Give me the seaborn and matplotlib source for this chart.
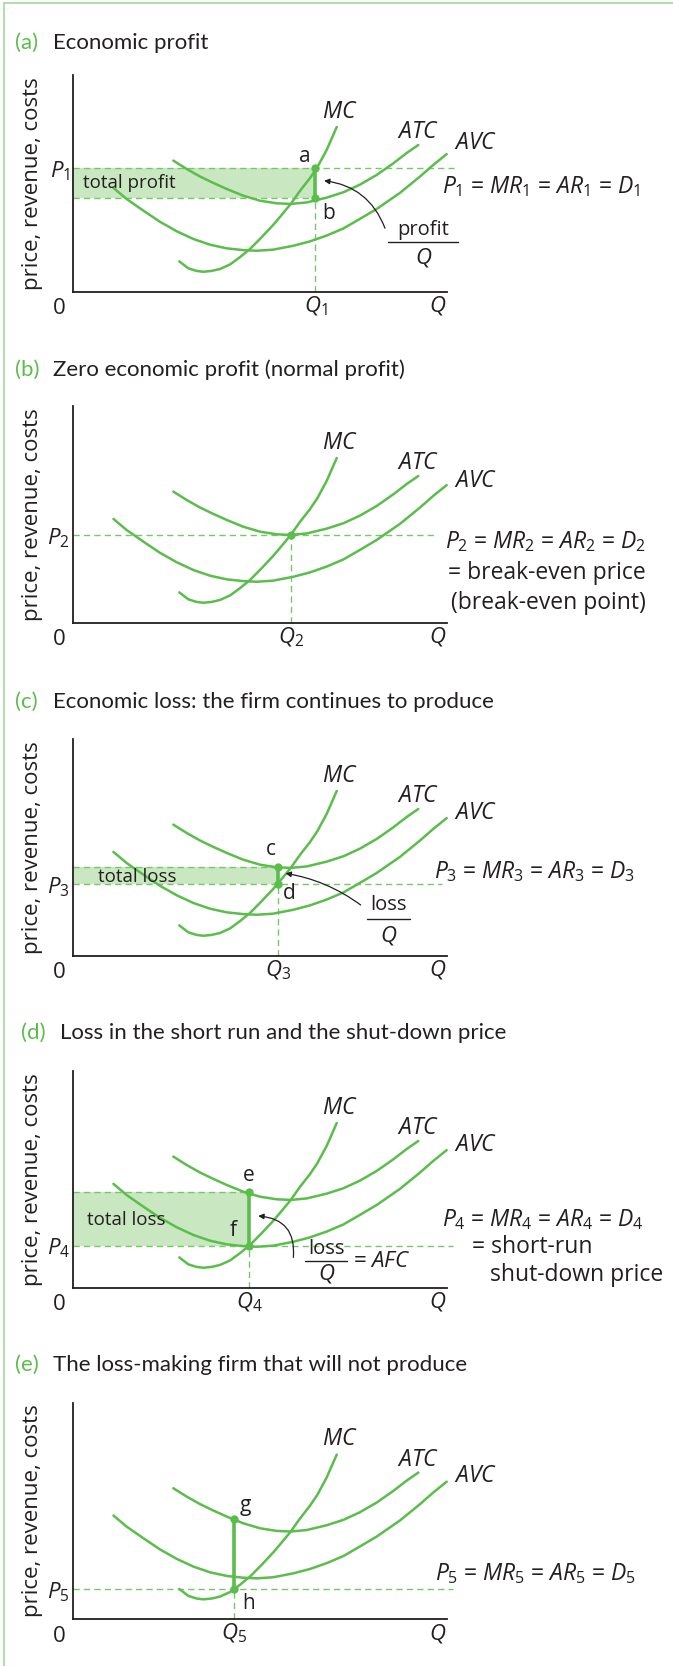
# five short-run cost diagrams: profit, break-even, loss, shut-down, no production
# the MC / ATC / AVC curves are the same in every panel, only the price line moves

import matplotlib
matplotlib.use("Agg")
import matplotlib.pyplot as plt
from matplotlib.lines import Line2D
import seaborn as sns

# cost curves (axes run 0..100 on both sides)
MC_Q = [28.5, 30.9, 33.1, 34.9, 37.2, 39.4, 42.1, 44.7, 47.4, 50.5, 53.6, 56.3, 58.3, 60.8, 63.4, 65.4, 67.9, 70.6]
MC_P = [14.0, 10.8, 9.6, 9.2, 9.6, 10.5, 12.6, 15.9, 19.7, 25.1, 30.8, 36.3, 40.5, 46.6, 52.3, 57.4, 65.4, 76.0]
ATC_Q = [26.9, 30.5, 34.0, 37.6, 41.2, 45.6, 50.1, 54.5, 58.3, 62.6, 67.9, 72.4, 76.8, 81.3, 85.7, 89.3, 92.4]
ATC_P = [60.5, 56.6, 53.2, 50.2, 47.4, 44.3, 42.0, 40.8, 40.5, 41.2, 43.4, 45.9, 49.4, 53.9, 59.2, 64.0, 67.7]
AVC_Q = [10.9, 14.4, 18.9, 23.3, 27.8, 32.3, 36.7, 41.2, 45.6, 49.2, 53.6, 59.0, 63.4, 67.9, 72.4, 76.8,
         81.3, 87.5, 92.9, 96.4, 100.0]
AVC_P = [47.9, 42.8, 37.4, 32.3, 27.9, 24.3, 21.7, 20.0, 19.2, 18.9, 19.4, 21.2, 23.2, 25.9, 29.2, 33.6,
         38.2, 45.6, 53.2, 58.5, 63.5]

PANEL_TAGS = ["(a)", "(b)", "(c)", "(d)", "(e)"]
PANEL_TITLES = [
    "Economic profit",
    "Zero economic profit (normal profit)",
    "Economic loss: the firm continues to produce",
    "Loss in the short run and the shut-down price",
    "The loss-making firm that will not produce",
]
PRICE = [57.0, 40.5, 32.9, 19.4, 14.0]      # P1..P5
OUTPUT = [64.9, 58.3, 54.9, 47.2, 43.1]     # Q1..Q5
ATC_AT_Q = [43.4, 40.5, 41.1, 44.3, 46.2]   # average total cost at chosen output
PRICE_PT = ["a", "", "d", "f", "h"]
ATC_PT = ["b", "", "c", "e", "g"]
SHADE_TEXT = ["total profit", "", "total loss", "total loss", ""]

GREEN = "#5bbd4c"
DASH = "#74c866"
FILL = "#c9e7c1"
INK = "#231f20"

sns.set_theme(style="white")
plt.rcParams["font.family"] = ["Open Sans", "DejaVu Sans"]
plt.rcParams["mathtext.fontset"] = "custom"
plt.rcParams["mathtext.rm"] = "Open Sans"
plt.rcParams["mathtext.it"] = "Open Sans:italic"
plt.rcParams["mathtext.bf"] = "Open Sans:bold"

W, H = 673, 1666
AX_BOTTOMS = [291.7, 622.7, 955.7, 1287.7, 1619.3]   # pixel row of each x axis

# where the odd bits of text sit in each panel (data coords)
PT_POS = {
    0: [(62.1, 62.3), (68.3, 36.2)],
    2: [(58.0, 28.8), (52.9, 48.8)],
    3: [(42.9, 26.6), (47.2, 52.0)],
    4: [(47.0, 7.4), (46.1, 52.7)],
}
SHADE_POS = [(2.7, 50.0), None, (6.8, 36.5), (3.7, 31.2), None]
PRICE_LINE_END = [102, 96.5, 98.7, 101.6, 101.6]
AVC_LABEL_Y = [68.5, 65.5, 66.0, 65.8, 66.3]
TAG_X = [-15.4, -15.4, -15.4, -13.7, -15.4]
TITLE_X = [-5.4, -5.4, -5.4, -3.4, -5.4]
TITLE_Y = [114.9, 116.9, 117.2, 117.4, 117.4]

FS = 16.5    # most labels
FS_SMALL = 13.5


def dashed(ax, xs, ys):
    ax.plot(xs, ys, color=DASH, lw=1.0, dashes=(4.5, 3), zorder=2, clip_on=False)


def main():
    fig = plt.figure(figsize=(W / 100, H / 100), dpi=100)

    # thin green frame at top and left
    fig.add_artist(Line2D([3.5 / W, 1], [1 - 2.7 / H, 1 - 2.7 / H], transform=fig.transFigure,
                          color="#a3d89a", lw=1.2))
    fig.add_artist(Line2D([3.5 / W, 3.5 / W], [0, 1 - 2.7 / H], transform=fig.transFigure,
                          color="#a3d89a", lw=1.2))

    for i in range(5):
        bottom = 1 - AX_BOTTOMS[i] / H
        ax = fig.add_axes([72.7 / W, bottom, 374 / W, 216.7 / H])
        ax.set_xlim(0, 100)
        ax.set_ylim(0, 100)
        sns.despine(ax=ax)
        for s in ["left", "bottom"]:
            ax.spines[s].set_color(INK)
            ax.spines[s].set_linewidth(1.3)

        p, q, c = PRICE[i], OUTPUT[i], ATC_AT_Q[i]
        n = i + 1

        # shaded profit / loss rectangle
        if SHADE_TEXT[i]:
            ax.fill_between([0, q], [min(p, c)] * 2, [max(p, c)] * 2, color=FILL, lw=0, zorder=1)
            sx, sy = SHADE_POS[i]
            ax.text(sx, sy, SHADE_TEXT[i], fontsize=FS_SMALL, color=INK, va="center", ha="left", zorder=6)
            dashed(ax, [0, q], [c, c])

        # price line and output line
        dashed(ax, [0, PRICE_LINE_END[i]], [p, p])
        dashed(ax, [q, q], [0, min(p, c)])

        for xs, ys in [(MC_Q, MC_P), (ATC_Q, ATC_P), (AVC_Q, AVC_P)]:
            sns.lineplot(x=xs, y=ys, sort=False, estimator=None, color=GREEN, lw=1.8, ax=ax,
                         zorder=3, clip_on=False)

        if i != 1:
            ax.plot([q, q], [p, c], color=GREEN, lw=2.6, zorder=4, solid_capstyle="butt")
            sns.scatterplot(x=[q, q], y=[p, c], s=36, color=GREEN, linewidth=0, ax=ax, zorder=5,
                            clip_on=False)
            (px, py), (cx, cy) = PT_POS[i]
            ax.text(px, py, PRICE_PT[i], fontsize=15, color=INK, ha="center", va="center")
            ax.text(cx, cy, ATC_PT[i], fontsize=15, color=INK, ha="center", va="center")
        else:
            sns.scatterplot(x=[q], y=[p], s=36, color=GREEN, linewidth=0, ax=ax, zorder=5)

        # curve labels
        ax.text(71.5, 83.0, "$MC$", fontsize=16.5, color=INK, ha="center", va="center")
        ax.text(92.4, 73.7, "$ATC$", fontsize=16.5, color=INK, ha="center", va="center")
        ax.text(107.6, AVC_LABEL_Y[i], "$AVC$", fontsize=16.5, color=INK, ha="center", va="center")

        # axis labels
        ax.set_xticks([q, 97.6], [f"$Q_{n}$", "$Q$"])
        ax.set_yticks([p], [f"$P_{n}$"])
        ax.tick_params(axis="both", length=0, labelsize=16, labelcolor=INK)
        ax.tick_params(axis="x", pad=2)
        ax.tick_params(axis="y", pad=2)
        ax.text(-3.7, -7.9, "0", fontsize=16, color=INK, ha="center", va="center", clip_on=False)
        ax.text(-10.7, 50, "price, revenue, costs", rotation=90, fontsize=16, color=INK,
                ha="center", va="center")

        # panel title
        ax.text(TAG_X[i], TITLE_Y[i], PANEL_TAGS[i], fontsize=16, color=GREEN, ha="left", va="center",
                family=["Lato"])
        ax.text(TITLE_X[i], TITLE_Y[i], PANEL_TITLES[i], fontsize=16, color=INK, ha="left", va="center",
                family=["Lato"])

        eq = f"$P_{n}$ = $MR_{n}$ = $AR_{n}$ = $D_{n}$"
        arrow = dict(arrowstyle="-|>", color=INK, lw=0.9, mutation_scale=8, shrinkA=0, shrinkB=0)

        if i == 0:
            ax.text(98.7, 48.5, eq, fontsize=FS, color=INK, ha="left", va="center")
            ax.annotate("", xy=(67.2, 51.2), xytext=(83.5, 29.3),
                        arrowprops=dict(arrow, connectionstyle="arc3,rad=0.3"))
            ax.text(93.8, 28.5, "profit", fontsize=14.5, color=INK, ha="center", va="center")
            ax.plot([84.4, 103.0], [22.8, 22.8], color=INK, lw=1.0, clip_on=False)
            ax.text(93.8, 15.8, "$Q$", fontsize=16, color=INK, ha="center", va="center")
        elif i == 1:
            ax.text(153.3, 37.4, eq, fontsize=FS, color=INK, ha="right", va="center")
            ax.text(153.3, 22.8, "= break-even price", fontsize=FS, color=INK, ha="right", va="center")
            ax.text(153.3, 9.0, "(break-even point)", fontsize=FS, color=INK, ha="right", va="center")
        elif i == 2:
            ax.text(96.5, 38.8, eq, fontsize=FS, color=INK, ha="left", va="center")
            ax.annotate("", xy=(56.9, 38.0), xytext=(77.0, 23.4),
                        arrowprops=dict(arrow, connectionstyle="arc3,rad=0.12"))
            ax.text(84.4, 23.4, "loss", fontsize=14.5, color=INK, ha="center", va="center")
            ax.plot([78.7, 90.2], [16.9, 16.9], color=INK, lw=1.0)
            ax.text(84.4, 9.3, "$Q$", fontsize=16, color=INK, ha="center", va="center")
        elif i == 3:
            ax.text(98.7, 31.2, eq, fontsize=FS, color=INK, ha="left", va="center")
            ax.text(106.8, 18.9, "= short-run", fontsize=FS, color=INK, ha="left", va="center")
            ax.text(111.7, 5.9, "shut-down price", fontsize=FS, color=INK, ha="left", va="center")
            ax.annotate("", xy=(49.6, 33.1), xytext=(59.0, 14.0),
                        arrowprops=dict(arrow, connectionstyle="arc3,rad=0.5"))
            ax.text(67.9, 18.0, "loss", fontsize=14.5, color=INK, ha="center", va="center")
            ax.plot([62.1, 73.4], [12.5, 12.5], color=INK, lw=1.0)
            ax.text(67.9, 6.4, "$Q$", fontsize=16, color=INK, ha="center", va="center")
            ax.text(75.0, 12.0, "= $AFC$", fontsize=16, color=INK, ha="left", va="center")
        else:
            ax.text(97.0, 21.2, eq, fontsize=FS, color=INK, ha="left", va="center")

    fig.savefig("out.png", dpi=100)
    plt.close(fig)


if __name__ == "__main__":
    main()
